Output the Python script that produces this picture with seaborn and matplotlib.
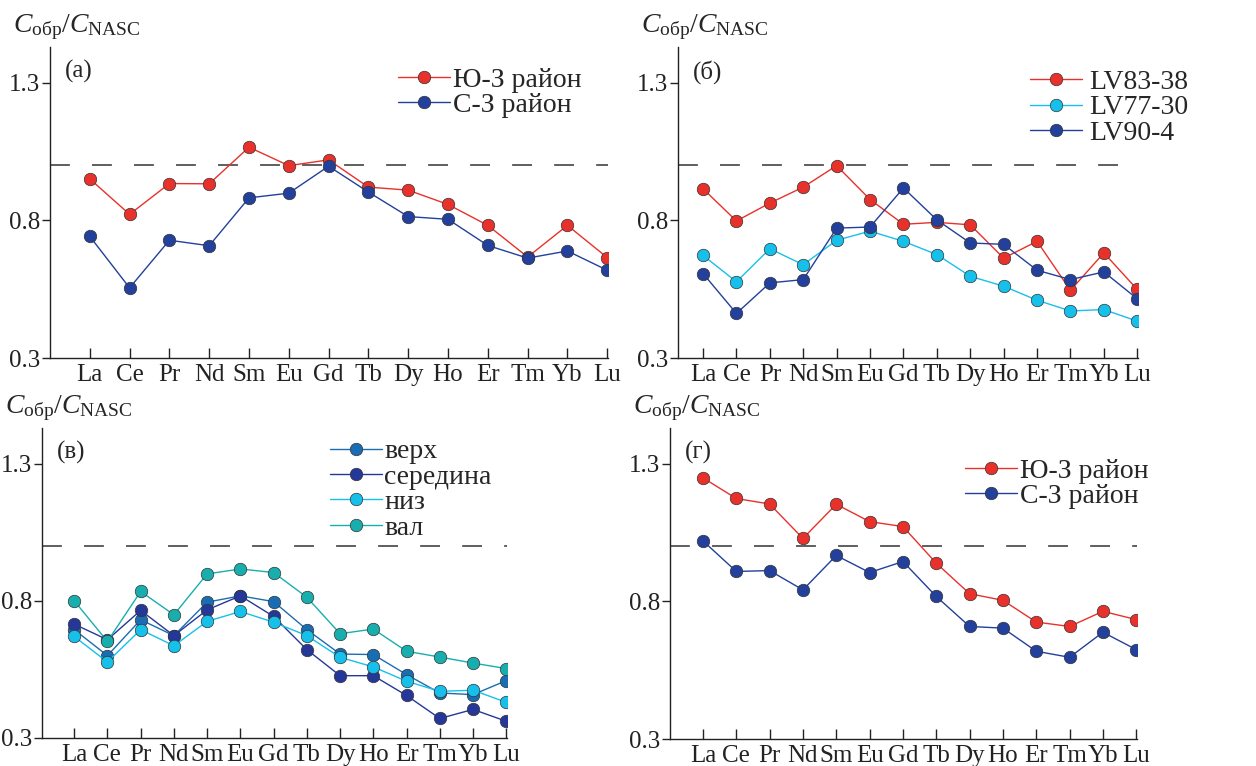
import numpy as np
import pandas as pd
import matplotlib
matplotlib.use("Agg")
import matplotlib.pyplot as plt
import seaborn as sns

# REE, normalised to NASC
elements = ["La", "Ce", "Pr", "Nd", "Sm", "Eu", "Gd", "Tb", "Dy", "Ho", "Er", "Tm", "Yb", "Lu"]

# (а) regions
a_sw = [0.951, 0.822, 0.934, 0.933, 1.066, 0.999, 1.020, 0.921, 0.910, 0.858, 0.782, 0.667, 0.782, 0.665]
a_nw = [0.742, 0.555, 0.728, 0.708, 0.882, 0.899, 0.997, 0.903, 0.814, 0.804, 0.709, 0.663, 0.689, 0.619]

# (б) cores
b_lv83 = [0.915, 0.798, 0.863, 0.921, 0.999, 0.876, 0.786, 0.793, 0.784, 0.663, 0.724, 0.546, 0.682, 0.549]
b_lv77 = [0.673, 0.577, 0.697, 0.639, 0.728, 0.761, 0.724, 0.676, 0.597, 0.561, 0.510, 0.471, 0.476, 0.434]
b_lv90 = [0.607, 0.462, 0.573, 0.585, 0.772, 0.776, 0.918, 0.802, 0.718, 0.713, 0.619, 0.585, 0.613, 0.515]

# (в) parts of the section
c_top = [0.695, 0.600, 0.731, 0.673, 0.795, 0.818, 0.797, 0.695, 0.606, 0.604, 0.531, 0.464, 0.458, 0.509]
c_mid = [0.715, 0.658, 0.765, 0.673, 0.767, 0.818, 0.743, 0.622, 0.527, 0.527, 0.455, 0.371, 0.404, 0.361]
c_low = [0.670, 0.577, 0.695, 0.636, 0.725, 0.761, 0.722, 0.673, 0.594, 0.559, 0.507, 0.470, 0.474, 0.430]
c_ridge = [0.800, 0.652, 0.834, 0.749, 0.898, 0.916, 0.903, 0.813, 0.680, 0.697, 0.616, 0.595, 0.573, 0.553]

# (г) regions
d_sw = [1.249, 1.174, 1.154, 1.029, 1.153, 1.090, 1.072, 0.939, 0.828, 0.804, 0.725, 0.709, 0.764, 0.734]
d_nw = [1.020, 0.909, 0.912, 0.842, 0.967, 0.905, 0.945, 0.818, 0.709, 0.703, 0.619, 0.597, 0.688, 0.625]

y_ticks = [0.3, 0.8, 1.3]
ref_level = 1.0

RED = "#e8312a"
NAVY = "#22409c"
CYAN = "#17c0ea"
MID_BLUE = "#1a6db3"
TEAL = "#19aeae"

sns.set_theme(style="ticks")
plt.rcParams["font.family"] = ["Liberation Serif", "DejaVu Serif"]
plt.rcParams["mathtext.fontset"] = "custom"
plt.rcParams["mathtext.rm"] = "Liberation Serif"
plt.rcParams["mathtext.it"] = "Liberation Serif:italic"

FS_TICK = 18
FS_LEG = 20
fig = plt.figure(figsize=(12.56, 7.66), dpi=100)

panels = [
    # rect, xlim left, label, series, legend anchor, text pad
    ([0.0398, 0.5326, 0.4443, 0.406], -1.0, "(а)",
     [("Ю-З район", a_sw, RED), ("С-З район", a_nw, NAVY)], (0.624, 0.935), 0.12),
    ([0.5398, 0.5326, 0.3662, 0.406], -0.75, "(б)",
     [("LV83-38", b_lv83, RED), ("LV77-30", b_lv77, CYAN), ("LV90-4", b_lv90, NAVY)], (0.765, 0.928), 0.25),
    ([0.0334, 0.0366, 0.3702, 0.4047], -0.97, "(в)",
     [("верх", c_top, MID_BLUE), ("середина", c_mid, "#25389a"),
      ("низ", c_low, CYAN), ("вал", c_ridge, TEAL)], (0.619, 0.965), 0.1),
    ([0.5334, 0.0352, 0.3718, 0.406], -0.99, "(г)",
     [("Ю-З район", d_sw, RED), ("С-З район", d_nw, NAVY)], (0.632, 0.903), 0.1),
]

pos = np.arange(len(elements))

for rect, xleft, tag, series, anchor, tpad in panels:
    ax = fig.add_axes(rect)
    for name, vals, col in series:
        df = pd.DataFrame({"pos": pos, "value": vals})
        sns.lineplot(data=df, x="pos", y="value", color=col, label=name,
                     marker="o", markersize=9, markeredgecolor="#333333",
                     markeredgewidth=0.5, linewidth=1.0, sort=False, ax=ax)
    ax.axhline(ref_level, color="#333333", linewidth=1.1, linestyle=(0, (13, 14.5)), zorder=0)

    ax.set_xlim(xleft, 13.02)
    ax.set_ylim(0.3, 1.43)
    ax.set_xticks(pos)
    ax.set_xticklabels(elements)
    ax.set_yticks(y_ticks)
    ax.set_yticklabels([f"{t:.1f}" for t in y_ticks])
    ax.tick_params(axis="x", direction="in", length=7, width=1, pad=4, labelsize=FS_TICK, colors="#222222")
    ax.tick_params(axis="y", direction="out", length=6, width=1, pad=1, labelsize=FS_TICK, colors="#222222")
    ax.set_xlabel("")
    ax.set_ylabel("")
    sns.despine(ax=ax)
    for s in ("left", "bottom"):
        ax.spines[s].set_linewidth(1.0)
        ax.spines[s].set_color("#222222")

    ax.annotate(tag, xy=(0, 1), xycoords="axes fraction", xytext=(15, -13),
                textcoords="offset pixels", ha="left", va="top", fontsize=FS_TICK)
    ax.annotate(r"$C_{\mathrm{обр}}/C_{\mathrm{NASC}}$", xy=(0, 1), xycoords="axes fraction",
                xytext=(-37, 15), textcoords="offset pixels", ha="left", va="baseline",
                fontsize=FS_LEG)

    ax.legend(loc="upper left", bbox_to_anchor=anchor, frameon=False, fontsize=FS_LEG,
              handlelength=1.87, handletextpad=tpad, labelspacing=0.0,
              borderpad=0, borderaxespad=0, numpoints=1)

fig.savefig("out.png", dpi=100)
